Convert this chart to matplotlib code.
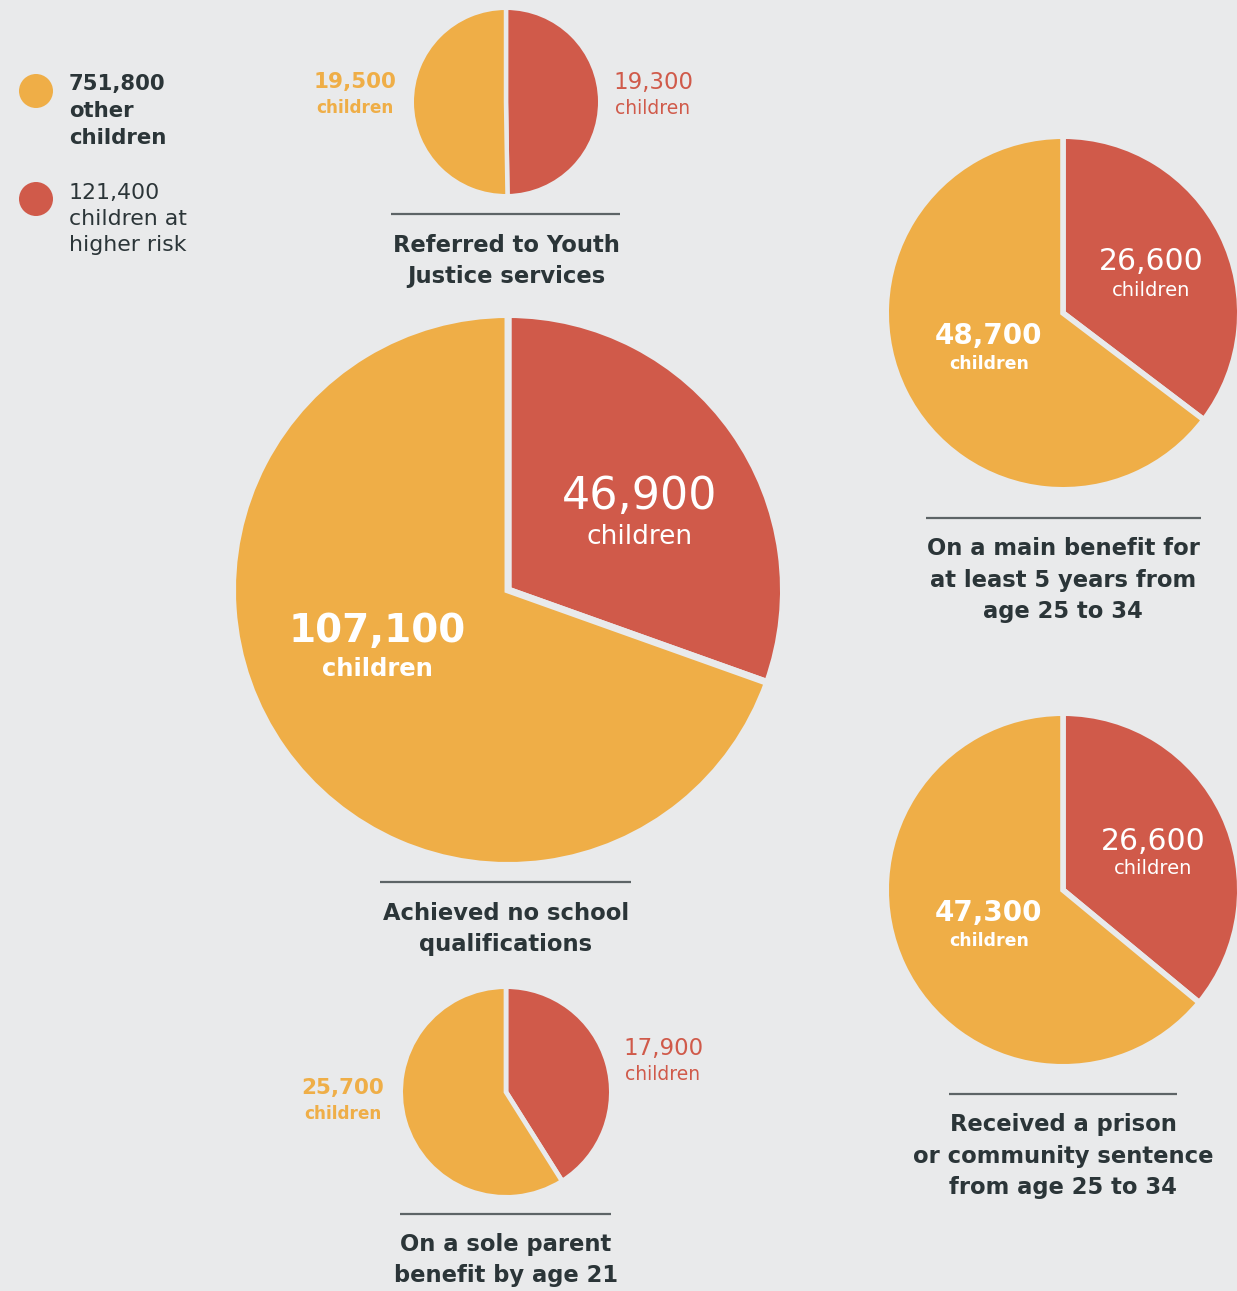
import matplotlib
matplotlib.use("Agg")
import matplotlib.pyplot as plt
from matplotlib.patches import Circle

# ---------------- data ----------------
titles = [
    "Referred to Youth\nJustice services",
    "Achieved no school\nqualifications",
    "On a main benefit for\nat least 5 years from\nage 25 to 34",
    "Received a prison\nor community sentence\nfrom age 25 to 34",
    "On a sole parent\nbenefit by age 21",
]
higher_risk = [19300, 46900, 26600, 26600, 17900]
other_children = [19500, 107100, 48700, 47300, 25700]
legend_other = 751800
legend_risk = 121400

# ---------------- style / layout ----------------
W, H = 1237, 1291
BG = "#e9eaeb"
ORANGE = "#efae47"
RED = "#d05a4a"
DARK = "#2b3538"
RULE = "#5d6466"
FONT = "DejaVu Sans"

plt.rcParams["font.family"] = [FONT]

fig = plt.figure(figsize=(W / 100, H / 100), dpi=100, facecolor=BG)
ax = fig.add_axes([0, 0, 1, 1])
ax.set_facecolor(BG)


def Y(y):
    return H - y


# pie centres/visible radii (image px)
centers = [(506, 102), (508, 590), (1063, 313), (1063, 890), (506, 1092)]
radii = [92, 272, 174, 174, 103]
gaps = [3.2, 5.0, 4.0, 4.0, 3.4]   # gap line width in points

for (cx, cy), r, g, hr, oc in zip(centers, radii, gaps, higher_risk, other_children):
    ax.pie([hr, oc], colors=[RED, ORANGE], startangle=90, counterclock=False,
           center=(cx, Y(cy)), radius=r + g * 1.389 / 2,
           wedgeprops=dict(edgecolor=BG, linewidth=g))

# title rules and titles
rules = [(391, 620, 214), (380, 631, 882), (926, 1201, 518), (949, 1177, 1094), (400, 611, 1214)]
title_pos = [(506, 261), (506, 929), (1063, 580), (1063, 1156), (506, 1260)]
for (x0, x1, y), (tx, ty), t in zip(rules, title_pos, titles):
    ax.plot([x0, x1], [Y(y), Y(y)], color=RULE, lw=1.6, solid_capstyle="butt")
    ax.text(tx, Y(ty), t, ha="center", va="center", fontsize=16.3, fontweight="bold",
            color=DARK, linespacing=1.45)


def label(x, y, value, color, big, small, weight, dy):
    ax.text(x, Y(y), f"{value:,}", ha="center", va="center", fontsize=big,
            fontweight=weight, color=color)
    ax.text(x, Y(y + dy), "children", ha="center", va="center", fontsize=small,
            fontweight=weight, color=color)


# Referred to Youth Justice
label(355, 82, other_children[0], ORANGE, 15.5, 12.2, "bold", 26)
label(653, 82, higher_risk[0], RED, 16.5, 13.5, "normal", 26)
# No school qualifications
label(640, 497, higher_risk[1], "white", 32, 19, "normal", 40)
label(377, 631, other_children[1], "white", 28, 17.5, "bold", 38)
# Main benefit
label(1151, 262, higher_risk[2], "white", 21.5, 14, "normal", 28)
label(989, 336, other_children[2], "white", 20, 12.5, "bold", 28)
# Sentence
label(1153, 841, higher_risk[3], "white", 21.5, 14, "normal", 28)
label(989, 913, other_children[3], "white", 20, 12.5, "bold", 28)
# Sole parent
label(663, 1048, higher_risk[4], RED, 16.5, 13.5, "normal", 26)
label(343, 1088, other_children[4], ORANGE, 15.5, 12.2, "bold", 26)

# legend
ax.add_patch(Circle((36, Y(91)), 17, color=ORANGE, lw=0))
ax.add_patch(Circle((36, Y(199)), 17, color=RED, lw=0))
ax.text(69, Y(111), f"{legend_other:,}\nother\nchildren", ha="left", va="center",
        fontsize=15.3, fontweight="bold", color=DARK, linespacing=1.42)
ax.text(69, Y(219), f"{legend_risk:,}\nchildren at\nhigher risk", ha="left", va="center",
        fontsize=15.8, fontweight="normal", color=DARK, linespacing=1.40)

ax.set_xlim(0, W)
ax.set_ylim(0, H)
ax.set_aspect("equal")
ax.axis("off")

fig.savefig("out.png", dpi=100, facecolor=BG)
